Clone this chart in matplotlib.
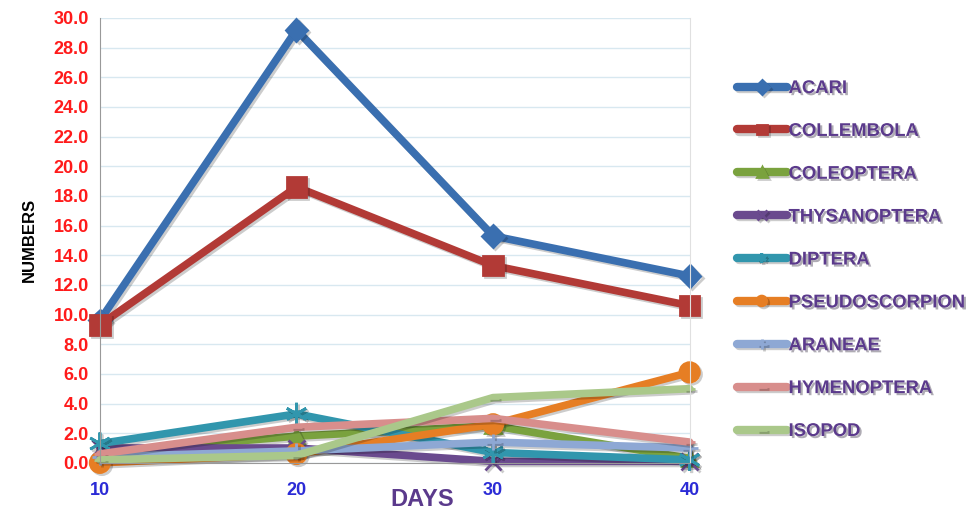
import matplotlib
matplotlib.use('Agg')
import matplotlib.pyplot as plt
import matplotlib.patheffects as pe

days = [10, 20, 30, 40]

acari = [9.6, 29.2, 15.3, 12.6]
collembola = [9.3, 18.6, 13.3, 10.6]
coleoptera = [0.7, 1.8, 2.5, 0.3]
thysanoptera = [1.0, 1.0, 0.1, 0.1]
diptera = [1.3, 3.3, 0.7, 0.2]
pseudoscorpion = [0.0, 0.6, 2.6, 6.1]
araneae = [0.4, 0.8, 1.4, 1.0]
hymenoptera = [0.6, 2.4, 3.0, 1.4]
isopod = [0.2, 0.5, 4.4, 5.0]

series = [
    ('ACARI', acari, '#3a6fb0', 'D', 11),
    ('COLLEMBOLA', collembola, '#b23a36', 's', 14),
    ('COLEOPTERA', coleoptera, '#7aa23e', '^', 11),
    ('THYSANOPTERA', thysanoptera, '#6a4a8e', 'x', 12),
    ('DIPTERA', diptera, '#3196ad', (6, 2, 0), 16),
    ('PSEUDOSCORPION', pseudoscorpion, '#e67e24', 'o', 14),
    ('ARANEAE', araneae, '#8ea8d4', '+', 12),
    ('HYMENOPTERA', hymenoptera, '#d88e8c', '_', 8),
    ('ISOPOD', isopod, '#aac88a', '_', 8),
]

plt.rcParams['font.family'] = ['Liberation Sans', 'DejaVu Sans']

fig = plt.figure(figsize=(9.7, 5.12), dpi=100)
ax = fig.add_axes([0.103, 0.096, 0.608, 0.869])

for name, vals, color, marker, ms in series:
    ax.plot(days, vals, color=color, lw=5.5, marker=marker, markersize=ms,
            markeredgewidth=2, markeredgecolor=color, label=name,
            clip_on=False, solid_capstyle='round',
            path_effects=[pe.SimpleLineShadow(offset=(1.5, -1.5), alpha=0.2), pe.Normal()])

ax.set_xlim(10, 40)
ax.set_ylim(0, 30)
ax.set_xticks(days)
ax.set_yticks(range(0, 31, 2))
ax.set_yticklabels([f'{v:.1f}' for v in range(0, 31, 2)])
ax.grid(axis='y', color='#d8e8f0', lw=1)
ax.set_axisbelow(True)

ax.spines['top'].set_visible(False)
ax.spines['right'].set_color('#e0e0e0')
ax.spines['left'].set_color('#999999')
ax.spines['bottom'].set_color('#999999')
ax.tick_params(axis='both', length=0)
ax.tick_params(axis='y', labelcolor='#ff1a1a', labelsize=13, pad=8)
ax.tick_params(axis='x', labelcolor='#2b2bd6', labelsize=13, pad=14)
for t in ax.get_yticklabels() + ax.get_xticklabels():
    t.set_fontweight('bold')

ax.set_ylabel('NUMBERS', fontsize=12, fontweight='bold', color='black', labelpad=12)
fig.text(0.402, 0.012, 'DAYS', fontsize=17, fontweight='bold', color='#5b3a8c')

leg = ax.legend(loc='upper left', bbox_to_anchor=(0.752, 0.858), bbox_transform=fig.transFigure,
                frameon=False, fontsize=13.3, handlelength=2.7, handletextpad=0.1,
                labelspacing=1.4, borderaxespad=0)
for line in leg.get_lines():
    line.set_markersize(7)
    line.set_linewidth(6)
for t in leg.get_texts():
    t.set_fontweight('bold')
    t.set_color('#5b3a8c')
    t.set_path_effects([pe.withSimplePatchShadow(offset=(1.5, -1.5), alpha=0.35)])

plt.savefig('out.png', dpi=100)
